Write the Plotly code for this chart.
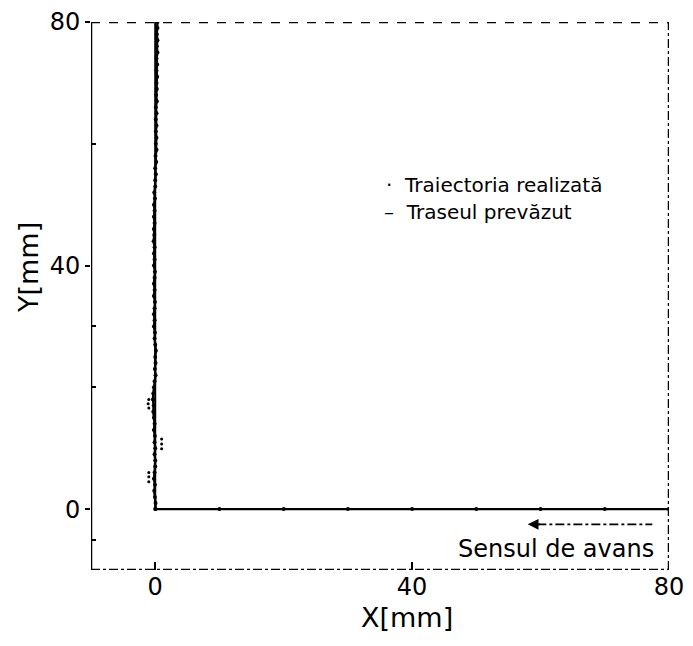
import plotly.graph_objects as go

# Planned path (Traseul prevăzut)
plan_x = [80, 0, 0]
plan_y = [0, 0, 80]

# Realized trajectory (Traiectoria realizată): horizontal leg then vertical leg
real_h_x = [80, 70, 60, 50, 40, 30, 20, 10, 0]
real_h_y = [0, 0, 0, 0, 0, 0, 0, 0, 0]
real_v_y = list(range(0, 81))
real_v_x = [0.05, 0.05, -0.05, -0.15, -0.05, -0.2, -0.1, 0.0, 0.0, -0.1,
            0.0, -0.1, -0.05, -0.2, -0.1, -0.2, -0.3, -0.25, -0.35, -0.3,
            -0.2, -0.1, 0.05, -0.05, 0.05, 0.0, 0.1, 0.0, -0.1, -0.05,
            -0.2, -0.1, -0.2, -0.1, -0.05, -0.2, -0.1, -0.2, -0.1, -0.05,
            -0.2, -0.1, -0.2, -0.1, -0.25, -0.15, -0.2, -0.1, -0.2, -0.1,
            -0.2, -0.05, -0.15, 0.0, 0.0, 0.1, 0.0, 0.15, 0.05, 0.2,
            0.1, 0.2, 0.1, 0.2, 0.1, 0.2, 0.1, 0.25, 0.15, 0.25,
            0.2, 0.3, 0.2, 0.3, 0.2, 0.35, 0.25, 0.35, 0.25, 0.35,
            0.35]
# scattered measurement points near the start of the vertical leg
scat_x = [-1.0, -1.1, -1.0, 1.0, 1.0, 1.0, -1.0, -1.0, -1.0]
scat_y = [18.0, 17.3, 16.6, 11.5, 10.7, 9.9, 6.0, 5.3, 4.5]

tick_vals = [0, 40, 80]
tick_text = ["0", "40", "80"]

FONT = "DejaVu Sans, sans-serif"

W, H = 693, 646
L, R, T, B = 83, 32, 14, 84
OFF = 8  # page offset of the figure in the browser window
plot_w = W - L - R
plot_h = H - T - B


def px2paper(px, py):
    return (px - OFF - L) / plot_w, (H - B - (py - OFF)) / plot_h


fig = go.Figure()
fig.add_trace(go.Scatter(x=plan_x, y=plan_y, mode="lines", name="Traseul prevăzut",
                         line=dict(color="black", width=2), showlegend=False))
fig.add_trace(go.Scatter(x=real_h_x + real_v_x, y=real_h_y + real_v_y, mode="lines+markers",
                         name="Traiectoria realizată",
                         line=dict(color="black", width=2.4),
                         marker=dict(color="black", size=4), showlegend=False))
fig.add_trace(go.Scatter(x=scat_x, y=scat_y, mode="markers", name="Traiectoria realizată",
                         marker=dict(color="black", size=3), showlegend=False))

# frame
fig.add_shape(x0=-10, x1=-10, y0=-10, y1=80, xref="x", yref="y", type="line",
              line=dict(color="black", width=2.5))
fig.add_shape(x0=-10, x1=80, y0=80, y1=80, xref="x", yref="y", type="line",
              line=dict(color="black", width=2.5, dash="dash"))
fig.add_shape(x0=80, x1=80, y0=-10, y1=80, xref="x", yref="y", type="line",
              line=dict(color="black", width=2.5, dash="dashdot"))
fig.add_shape(x0=-10, x1=80, y0=-10, y1=-10, xref="x", yref="y", type="line",
              line=dict(color="black", width=2.5, dash="dashdot"))

# direction arrow
fig.add_shape(x0=59.5, x1=77.4, y0=-2.5, y1=-2.5, xref="x", yref="y", type="line",
              line=dict(color="black", width=1.8, dash="dashdot"))
fig.add_annotation(x=58, y=-2.5, ax=14, ay=0, xref="x", yref="y", showarrow=True,
                   arrowhead=2, arrowsize=1.2, arrowwidth=1.8, arrowcolor="black", text="")
fig.add_annotation(x=77.9, y=-6.6, xref="x", yref="y", text="Sensul de avans",
                   showarrow=False, xanchor="right", yanchor="middle",
                   font=dict(family=FONT, size=24, color="black"))

# legend as text
lx, ly = px2paper(384, 185)
fig.add_annotation(x=lx, y=ly, xref="paper", yref="paper",
                   text="·  Traiectoria realizată", showarrow=False,
                   xanchor="left", yanchor="middle",
                   font=dict(family=FONT, size=20, color="black"))
lx, ly = px2paper(382, 212)
fig.add_annotation(x=lx, y=ly, xref="paper", yref="paper",
                   text="–  Traseul prevăzut", showarrow=False,
                   xanchor="left", yanchor="middle",
                   font=dict(family=FONT, size=20, color="black"))

# axis titles
tx, ty = px2paper(28, 268)
fig.add_annotation(x=tx, y=ty, xref="paper", yref="paper", text="Y[mm]",
                   showarrow=False, textangle=-90, xanchor="center", yanchor="middle",
                   font=dict(family=FONT, size=27, color="black"))
tx, ty = px2paper(407, 617)
fig.add_annotation(x=tx, y=ty, xref="paper", yref="paper", text="X[mm]",
                   showarrow=False, xanchor="center", yanchor="middle",
                   font=dict(family=FONT, size=27, color="black"))

fig.update_layout(
    width=W, height=H,
    margin=dict(l=L, r=R, t=T, b=B, autoexpand=False),
    plot_bgcolor="white", paper_bgcolor="white",
    showlegend=False,
    xaxis=dict(range=[-10, 80], showgrid=False, zeroline=False, showline=False,
               automargin=False,
               tickvals=tick_vals, ticktext=tick_text, ticks="inside", ticklen=8,
               tickcolor="black", tickwidth=1.5, ticklabeloverflow="allow",
               tickfont=dict(family=FONT, size=24, color="black")),
    yaxis=dict(range=[-10, 80], showgrid=False, zeroline=False, showline=False,
               automargin=False,
               tickvals=tick_vals, ticktext=tick_text, ticks="outside", ticklen=5,
               tickcolor="black", tickwidth=1.5, ticklabeloverflow="allow",
               minor=dict(tickvals=[-5, 20, 30, 60], ticks="inside", ticklen=5,
                          tickcolor="black"),
               tickfont=dict(family=FONT, size=24, color="black")),
)

fig.write_html("out.html")
